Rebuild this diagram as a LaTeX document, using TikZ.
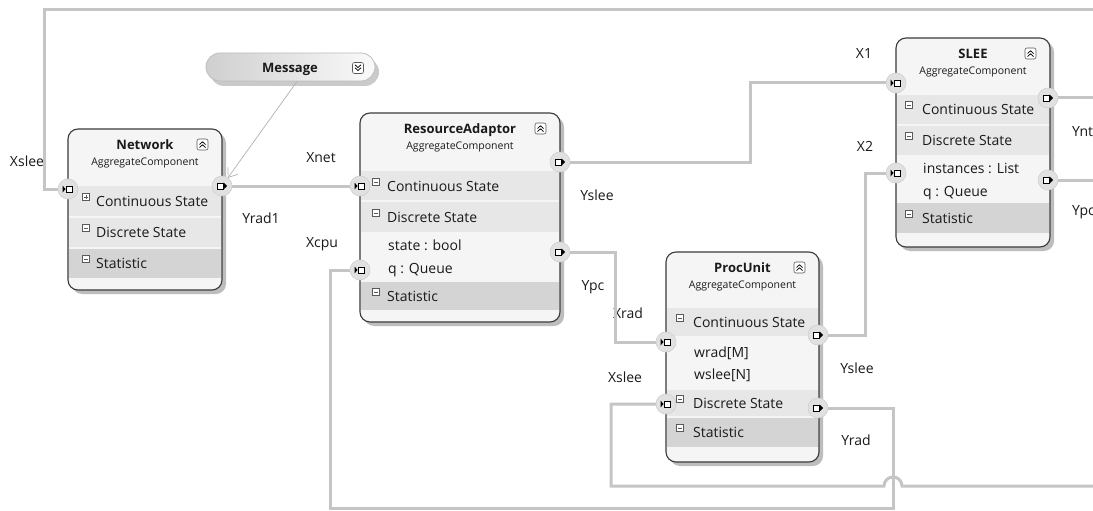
\documentclass[tikz,border=0pt]{standalone}
\usepackage{fontspec}
\setmainfont{Open Sans}
\usetikzlibrary{arrows.meta,calc}

\definecolor{wirec}{HTML}{C5C5C5}
\definecolor{edgec}{HTML}{3A3A3A}
\definecolor{bandc}{HTML}{E7E7E7}
\definecolor{statc}{HTML}{D4D4D4}
\definecolor{bodyc}{HTML}{F5F5F5}
\definecolor{shadc}{HTML}{BDBDBD}
\definecolor{portc}{HTML}{E1E1E1}
\definecolor{portedge}{HTML}{CFCFCF}
\definecolor{textc}{HTML}{1A1A1A}
\definecolor{iconc}{HTML}{5A5A5A}
\definecolor{msgedge}{HTML}{BEBEBE}
\definecolor{msgl}{HTML}{CFCFCF}
\definecolor{msgr}{HTML}{FAFAFA}

\pgfdeclarelayer{under}
\pgfdeclarelayer{wires}
\pgfsetlayers{under,wires,main}

\tikzset{
  wire/.style={draw=wirec, line width=3pt},
  compbody/.style={rectangle, draw=edgec, line width=1.1pt, rounded corners=10pt, fill=bodyc, inner sep=0pt, outer sep=0pt},
  boxshadow/.style={fill=shadc, rounded corners=10pt},
  port/.style={circle, fill=portc, draw=portedge, line width=0.6pt, minimum size=20pt, inner sep=0pt, outer sep=0pt},
  lbl/.style={font=\fontsize{14}{16}\selectfont, text=textc, inner sep=0pt, anchor=base},
  ctitle/.style={font=\fontsize{13}{15}\selectfont\bfseries, text=textc, inner sep=0pt, anchor=base},
  csub/.style={font=\fontsize{10.5}{12}\selectfont, text=textc, inner sep=0pt, anchor=base},
  rowtxt/.style={font=\fontsize{14}{16}\selectfont, text=textc, inner sep=0pt, anchor=base west},
  iconbox/.style={draw=iconc, fill=white, line width=0.6pt},
  chev/.style={draw=black, line width=0.75pt},
  msgpill/.style={rectangle, rounded corners=14pt, minimum width=169pt, minimum height=28pt, left color=msgl, right color=msgr, draw=msgedge, line width=0.8pt, inner sep=0pt},
  msgline/.style={draw=gray!60, line width=0.7pt, -{Straight Barb[length=8pt,width=12pt]}},
}

% component box: name, left, top, right, bottom, title
\newcommand\compbox[6]{%
  \fill[boxshadow] (#2+4,#3+4) rectangle (#4+4,#5+4);
  \node[compbody, anchor=north west, minimum width={#4-#2}, minimum height={#5-#3}] (#1) at (#2,#3) {};
  \node[ctitle] (#1-title) at ({(#2+#4)/2},#3+20.5) {#6};
  \node[csub] (#1-kind) at ({(#2+#4)/2},#3+36.5) {AggregateComponent};
  \draw[iconbox, rounded corners=2pt] (#4-25,#3+10) rectangle (#4-14,#3+21);
  \draw[chev] (#4-22.5,#3+15.5) -- (#4-19.5,#3+12.8) -- (#4-16.5,#3+15.5)
              (#4-22.5,#3+18.5) -- (#4-19.5,#3+15.8) -- (#4-16.5,#3+18.5);
}
% shaded band across a box: left, right, top, bottom, colour
\newcommand\band[5]{\fill[#5] (#1+1.3,#3) rectangle (#2-1.3,#4);}
% section header row: node name, icon x, text x, row centre y, text
\newcommand\secrow[5]{%
  \draw[iconbox] (#2-3.5,#4-7.5) rectangle (#2+3.5,#4-0.5);
  \draw[iconc, line width=0.7pt] (#2-2,#4-4) -- (#2+2,#4-4);
  \node[rowtxt] (#1) at (#3,#4+5) {#5};
}
% member row: node name, text x, row centre y, text
\newcommand\memrow[4]{\node[rowtxt] (#1) at (#2,#3+5) {#4};}
% input and output ports: name, x, y
\newcommand\inport[3]{%
  \node[port] (#1) at (#2,#3) {};
  \fill[black] (#2-5.5,#3-3.5) -- (#2-2.5,#3) -- (#2-5.5,#3+3.5) -- cycle;
  \draw[black, fill=white, line width=0.8pt] (#2-2,#3-3) rectangle (#2+4.5,#3+3);
}
\newcommand\outport[3]{%
  \node[port] (#1) at (#2,#3) {};
  \draw[black, fill=white, line width=0.8pt] (#2-4.5,#3-3) rectangle (#2+1.5,#3+3);
  \fill[black] (#2+1.5,#3-3.5) -- (#2+5,#3) -- (#2+1.5,#3+3.5) -- cycle;
}

\begin{document}
\begin{tikzpicture}[x=1pt,y=-1pt]
\useasboundingbox (0,0) rectangle (1093,511);
\begin{pgfonlayer}{under}
  \fill[white] (0,0) rectangle (1093,511);
\end{pgfonlayer}

% ---- Network
\compbox{net}{68}{129}{222}{290}{Network}
\band{68}{222}{186}{216}{bandc}
\band{68}{222}{218}{247}{bandc}
\band{68}{222}{249}{278}{statc}
\secrow{net-cs}{86}{96}{201}{Continuous State}
\draw[iconc, line width=0.7pt] (86,195) -- (86,199);
\secrow{net-ds}{86}{96}{232}{Discrete State}
\secrow{net-st}{86}{96}{263}{Statistic}

% ---- ResourceAdaptor
\compbox{ra}{360}{113}{560}{322}{ResourceAdaptor}
\band{360}{560}{171}{200}{bandc}
\band{360}{560}{202}{232}{bandc}
\band{360}{560}{282}{310}{statc}
\secrow{ra-cs}{376}{387}{186}{Continuous State}
\secrow{ra-ds}{376}{387}{217}{Discrete State}
\memrow{ra-m1}{388}{245}{state : bool}
\memrow{ra-m2}{388}{268}{q : Queue}
\secrow{ra-st}{376}{387}{296}{Statistic}

% ---- SLEE
\compbox{slee}{896}{38}{1050}{247}{SLEE}
\band{896}{1050}{95}{124}{bandc}
\band{896}{1050}{126}{155}{bandc}
\band{896}{1050}{203}{233}{statc}
\secrow{slee-cs}{909}{922}{109}{Continuous State}
\secrow{slee-ds}{909}{922}{140}{Discrete State}
\memrow{slee-m1}{923}{168}{instances : List}
\memrow{slee-m2}{923}{191}{q : Queue}
\secrow{slee-st}{909}{922}{218}{Statistic}

% ---- ProcUnit
\compbox{pu}{666}{252}{819}{462}{ProcUnit}
\band{666}{819}{308}{336}{bandc}
\band{666}{819}{390}{416}{bandc}
\band{666}{819}{418}{447}{statc}
\secrow{pu-cs}{680}{693}{322}{Continuous State}
\memrow{pu-m1}{694}{352}{wrad[M]}
\memrow{pu-m2}{694}{374}{wslee[N]}
\secrow{pu-ds}{680}{693}{403}{Discrete State}
\secrow{pu-st}{680}{693}{432}{Statistic}

% ---- ports
\inport{netin}{68}{189}
\outport{netout}{222}{186}
\inport{rain1}{360}{186}
\inport{rain2}{360}{270}
\outport{raout1}{560}{162}
\outport{raout2}{560}{252}
\inport{sleein1}{896}{83}
\inport{sleein2}{896}{173}
\outport{sleeout1}{1048}{98}
\outport{sleeout2}{1048}{180}
\inport{puin1}{666}{342}
\inport{puin2}{666}{404}
\outport{puout1}{818}{335}
\outport{puout2}{818}{408}

% ---- Message
\fill[shadc!80, rounded corners=14pt] (210,58) rectangle (379,86);
\node[msgpill] (msg) at (290.5,67) {};
\node[ctitle] (msg-text) at (290,72.6) {Message};
\draw[iconbox, rounded corners=2pt] (352.5,62.5) rectangle (363.5,73.5);
\draw[chev] (355,64.8) -- (358,67.5) -- (361,64.8)
            (355,67.8) -- (358,70.5) -- (361,67.8);
\draw[msgline] ($(msg.south)+(6.5,0)$) -- (netout);

% ---- free ends and bends of connectors
\coordinate (topfar) at (1100,10);
\coordinate (sleefar1) at (1100,98);
\coordinate (sleefar2) at (1100,180);
\coordinate (retfar) at (1100,486);
\coordinate (hop) at (902,486);
\coordinate (retC) at (611,486);
\coordinate (loopA) at (893,508);
\coordinate (loopB) at (330,508);

\begin{pgfonlayer}{wires}
  \draw[wire] (topfar) -| ($(netin.center)+(-24,0)$) -- (netin.center);
  \draw[wire] (netout.center) -- (rain1.center);
  \draw[wire] (raout1.center) -- ++(190,0) |- (sleein1.center);
  \draw[wire] (raout2.center) -- ++(55,0) |- (puin1.center);
  \draw[wire] (puout1.center) -- ++(47,0) |- (sleein2.center);
  \draw[wire] (puout2.center) -| (loopA) -- (loopB) |- (rain2.center);
  \draw[wire] (retfar) -- (hop) arc[start angle=0, end angle=-180, radius=9] -- (retC) |- (puin2.center);
  \draw[wire] (sleeout1.center) -- (sleefar1);
  \draw[wire] (sleeout2.center) -- (sleefar2);
\end{pgfonlayer}

% ---- connector labels
\begin{pgfonlayer}{under}
  \node[lbl] (l-xslee1) at (27,166) {Xslee};
  \node[lbl] (l-xnet) at (321,162) {Xnet};
  \node[lbl] (l-yrad1) at (261,223) {Yrad1};
  \node[lbl] (l-xcpu) at (322,247) {Xcpu};
  \node[lbl] (l-yslee1) at (597,200) {Yslee};
  \node[lbl] (l-ypc1) at (593,290) {Ypc};
  \node[lbl] (l-x1) at (864,59) {X1};
  \node[lbl] (l-x2) at (865,151) {X2};
  \node[lbl, anchor=base west] (l-ynt) at (1072,136) {Ynt};
  \node[lbl, anchor=base west] (l-ypc2) at (1072,215) {Ypc};
  \node[lbl] (l-xrad) at (628,318) {Xrad};
  \node[lbl] (l-xslee2) at (625,382) {Xslee};
  \node[lbl] (l-yslee2) at (857,373) {Yslee};
  \node[lbl] (l-yrad) at (856,445) {Yrad};
\end{pgfonlayer}
\end{tikzpicture}
\end{document}
